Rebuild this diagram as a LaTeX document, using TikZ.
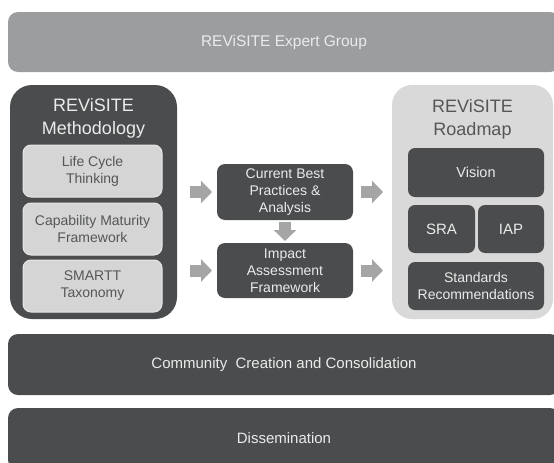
\documentclass[tikz,border=0pt]{standalone}
\usepackage{fontspec}
\setmainfont{Liberation Sans}
\usetikzlibrary{arrows.meta}
\definecolor{barmid}{HTML}{9B9D9E}
\definecolor{darkfill}{HTML}{4A4C4D}
\definecolor{lightfill}{HTML}{D5D5D5}
\definecolor{lightedge}{HTML}{E6E6E6}
\definecolor{roadfill}{HTML}{D9D9D9}
\definecolor{arrowgray}{HTML}{A5A5A5}
\definecolor{lighttext}{HTML}{EBEBEB}
\definecolor{darktext}{HTML}{555657}
\tikzset{
  box/.style={inner sep=0pt, align=center, outer sep=0pt},
  bar/.style={box, rounded corners=10pt, minimum width=552pt},
  darkbox/.style={box, fill=darkfill, text=lighttext, rounded corners=8pt, font=\fontsize{14}{17}\selectfont},
  lightbox/.style={box, fill=lightfill, draw=lightedge, line width=1pt, text=darktext, rounded corners=8pt,
    minimum width=139pt, minimum height=52pt, font=\fontsize{14}{17}\selectfont},
  titletext/.style={box, font=\fontsize{18}{23}\selectfont},
  blockarrow/.style={draw=arrowgray, line width=12pt, line cap=butt,
    -{Triangle[width=22pt 0 0, length=11pt 0 0, fill=arrowgray]}},
}
\begin{document}
\begin{tikzpicture}[x=1pt,y=-1pt]
\useasboundingbox (0,0) rectangle (554,463);
\clip (0,0) rectangle (554,463);
% top bar
\node[bar, fill=barmid, text=lighttext, minimum height=60pt, font=\fontsize{15.5}{18}\selectfont] (expert) at (284,42) {REViSITE Expert Group};
% methodology
\node[box, fill=darkfill, rounded corners=22pt, minimum width=167pt, minimum height=234pt] (method) at (93.5,202) {};
\node[titletext, text=lighttext] (mtitle) at (93.5,118.5) {REViSITE\\Methodology};
\node[lightbox] (lc) at (92.5,171) {Life Cycle\\Thinking};
\node[lightbox] (cmf) at (92.5,229) {Capability Maturity\\Framework};
\node[lightbox] (smartt) at (92.5,286) {SMARTT\\Taxonomy};
% middle
\node[darkbox, minimum width=136pt, minimum height=56pt] (cbp) at (285,192) {Current Best\\Practices \&\\Analysis};
\node[darkbox, minimum width=136pt, minimum height=55pt] (iaf) at (285,270.5) {Impact\\Assessment\\Framework};
% roadmap
\node[box, fill=roadfill, rounded corners=20pt, minimum width=161pt, minimum height=234pt] (roadmap) at (472.5,202) {};
\node[titletext, text=darktext] (rtitle) at (472.5,119) {REViSITE\\Roadmap};
\node[darkbox, rounded corners=7pt, minimum width=136pt, minimum height=49pt, font=\fontsize{14.5}{17}\selectfont] (vision) at (476,172.5) {Vision};
\node[darkbox, rounded corners=7pt, minimum width=67pt, minimum height=48pt, font=\fontsize{15}{17}\selectfont] (sra) at (441.5,229) {SRA};
\node[darkbox, rounded corners=7pt, minimum width=66pt, minimum height=48pt, font=\fontsize{15}{17}\selectfont] (iap) at (511,229) {IAP};
\node[darkbox, rounded corners=7pt, minimum width=136pt, minimum height=48pt] (std) at (476,286) {Standards\\Recommendations};
% bottom bars
\node[bar, fill=darkfill, text=lighttext, minimum height=61pt, font=\fontsize{15}{18}\selectfont] (community) at (284,364.5) {Community\ \ Creation and Consolidation};
\node[bar, fill=darkfill, text=lighttext, minimum height=62pt, font=\fontsize{15}{18}\selectfont] (dissem) at (284,439) {};
\node[box, text=lighttext, font=\fontsize{15}{18}\selectfont] (dissemtext) at (284,438) {Dissemination};
% arrows
\draw[blockarrow, shorten <=13pt, shorten >=5pt] (method.east |- cbp.west) -- (cbp.west);
\draw[blockarrow, shorten <=13pt, shorten >=5pt] (method.east |- iaf.west) -- (iaf.west);
\draw[blockarrow, shorten <=8pt, shorten >=9pt] (cbp.east) -- (roadmap.west |- cbp.east);
\draw[blockarrow, shorten <=8pt, shorten >=9pt] (iaf.east) -- (roadmap.west |- iaf.east);
\draw[blockarrow, shorten <=2pt, shorten >=2pt] (cbp.south) -- (iaf.north);
\end{tikzpicture}
\end{document}
